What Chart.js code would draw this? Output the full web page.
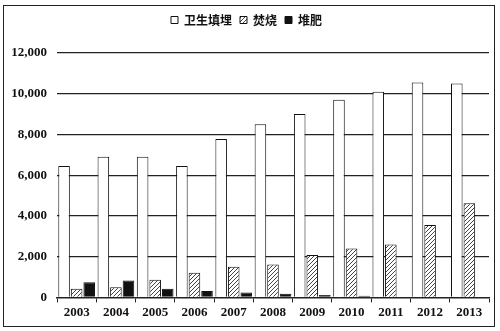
<!DOCTYPE html>
<html>
<head>
<meta charset="utf-8">
<script src="https://cdn.jsdelivr.net/npm/chart.js@4/dist/chart.umd.min.js"></script>
<style>
  body { margin: 0; background: #fff; }
  #wrap { position: absolute; left: 3px; top: 5px; width: 490px; height: 320px; border: 1px solid #222; }
</style>
</head>
<body>
<div id="wrap"><canvas id="chartCanvas"></canvas></div>
<script>
const years = ['2003', '2004', '2005', '2006', '2007', '2008', '2009', '2010', '2011', '2012', '2013'];
const landfill = [6450, 6900, 6900, 6450, 7780, 8500, 9000, 9700, 10100, 10550, 10500];
const incineration = [430, 500, 870, 1210, 1500, 1620, 2080, 2400, 2600, 3560, 4620];
const compost = [750, 830, 430, 310, 240, 180, 120, 80, 0, 0, 0];

// diagonal hatch for the incineration bars
function makeHatch() {
    const c = document.createElement('canvas');
    c.width = 4;
    c.height = 4;
    const g = c.getContext('2d');
    g.fillStyle = '#fff';
    g.fillRect(0, 0, 4, 4);
    g.strokeStyle = '#444';
    g.lineWidth = 1;
    g.beginPath();
    g.moveTo(-1, 5); g.lineTo(5, -1);
    g.moveTo(-1, 1); g.lineTo(1, -1);
    g.moveTo(3, 5); g.lineTo(5, 3);
    g.stroke();
    return g.createPattern(c, 'repeat');
}

const serif = "'Liberation Serif', 'Times New Roman', serif";
const cjk = "'Noto Sans CJK SC', sans-serif";

const chartData = {
    labels: years,
    datasets: [{
        label: '卫生填埋',
        data: landfill,
        backgroundColor: '#fff',
        borderColor: '#111',
        borderWidth: 1
    }, {
        label: '焚烧',
        data: incineration,
        backgroundColor: makeHatch(),
        borderColor: '#111',
        borderWidth: 1
    }, {
        label: '堆肥',
        data: compost,
        backgroundColor: '#111',
        borderColor: '#111',
        borderWidth: 1
    }]
};

// push the plot down a bit below the legend
const legendGap = {
    id: 'legendGap',
    beforeInit(chart) {
        const fit = chart.legend.fit;
        chart.legend.fit = function () {
            fit.bind(chart.legend)();
            this.height += 17;
        };
    }
};

const chartConfig = {
    type: 'bar',
    data: chartData,
    plugins: [legendGap],
    options: {
        responsive: true,
        maintainAspectRatio: false,
        animation: false,
        categoryPercentage: 0.96,
        barPercentage: 0.92,
        layout: { padding: { top: 0, right: 5, left: 0, bottom: 4 } },
        scales: {
            x: {
                grid: {
                    display: true,
                    drawOnChartArea: false, // only the little marks under the axis
                    tickLength: 5,
                    color: '#222'
                },
                border: { display: true, color: '#222', width: 1.5 },
                ticks: {
                    color: '#111',
                    font: { family: serif, size: 13, weight: 'bold' },
                    padding: 2
                }
            },
            y: {
                min: 0,
                max: 12000,
                afterFit: function (axis) { axis.width = 53; },
                grid: {
                    color: function (ctx) { return ctx.tick.value === 0 ? 'rgba(0,0,0,0)' : '#222'; },
                    lineWidth: 1.3,
                    drawTicks: false
                },
                border: { display: false },
                ticks: {
                    stepSize: 2000,
                    color: '#111',
                    padding: 10,
                    font: { family: serif, size: 13, weight: 'bold' },
                    callback: function (v) { return v.toLocaleString('en-US'); }
                }
            }
        },
        plugins: {
            legend: {
                display: true,
                position: 'top',
                labels: {
                    boxWidth: 7,
                    boxHeight: 7,
                    padding: 8,
                    color: '#111',
                    font: { family: cjk, size: 12, weight: 'bold' }
                }
            },
            tooltip: { enabled: false }
        }
    }
};

const mainChart = new Chart(document.getElementById('chartCanvas').getContext('2d'), chartConfig);
</script>
</body>
</html>
